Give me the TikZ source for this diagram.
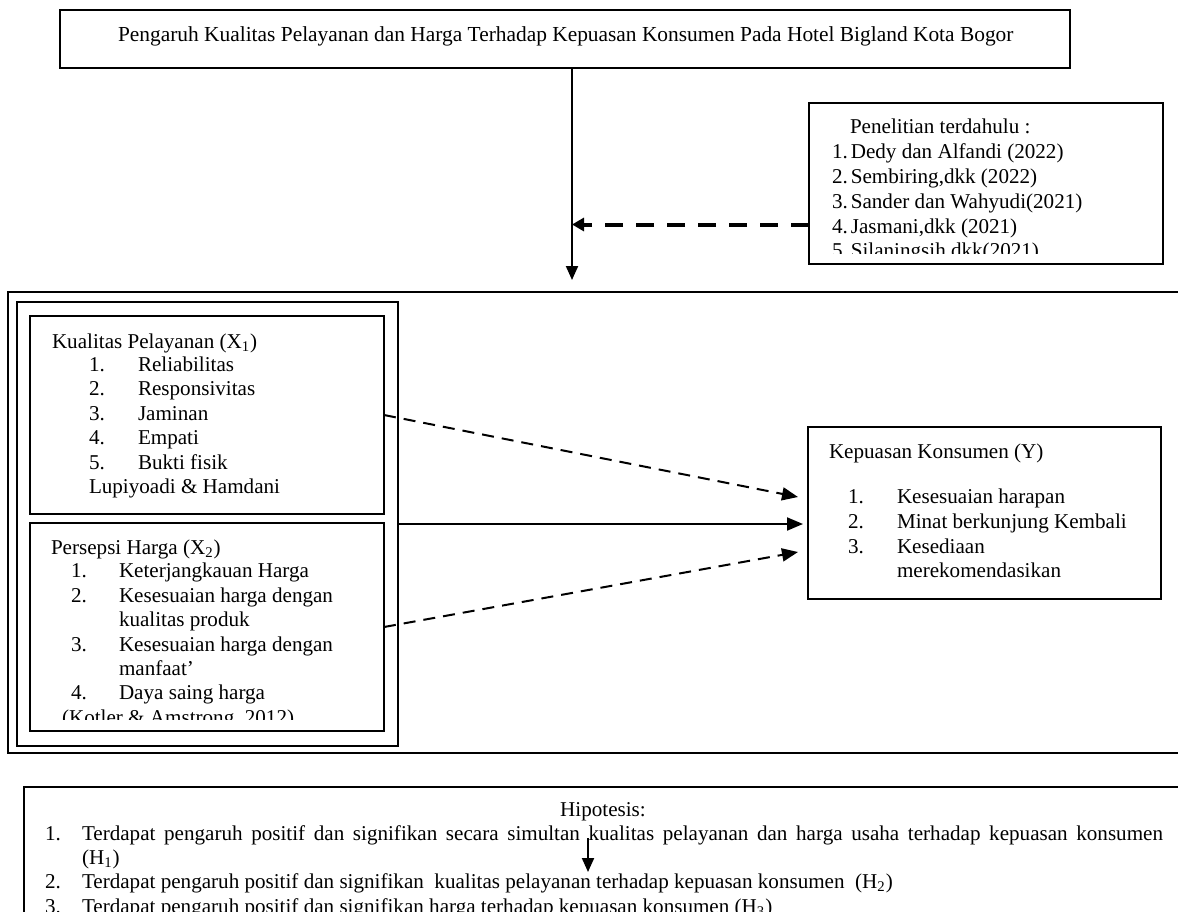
\documentclass[tikz,border=0pt]{standalone}
\usepackage{fontspec}
\setmainfont{Liberation Serif}
\usetikzlibrary{arrows.meta,calc}
\begin{document}
\begin{tikzpicture}[x=0.5pt,y=-0.5pt,
  every node/.style={font=\fontsize{10.55pt}{12.3pt}\selectfont},
  box/.style={draw,line width=1.25pt,inner sep=0pt,outer sep=0pt,anchor=north west},
  txt/.style={anchor=base west,inner sep=0pt,outer sep=0pt},
  thinarrow/.style={line width=1pt,-{Triangle[length=8pt,width=6.5pt]}},
  dasharrow/.style={thinarrow,dash pattern=on 6pt off 4pt},
  bigdash/.style={line width=2pt,dash pattern=on 9pt off 6.5pt,-{Triangle[length=6pt,width=6.5pt]}},
  downarrow/.style={line width=1pt,-{Triangle[length=7pt,width=6pt]}}]
\useasboundingbox (0,0) rectangle (1178,911);
\fill[white] (0,0) rectangle (1178,911);

% boxes
\node[box,minimum width=505pt,minimum height=29pt] (title) at (60,10) {};
\node[box,minimum width=177pt,minimum height=80.5pt] (res) at (809,103) {};
\node[box,minimum width=596pt,minimum height=230.5pt] (outer) at (8,292) {};
\node[box,minimum width=190.5pt,minimum height=222pt] (inner) at (17,302) {};
\node[box,minimum width=177pt,minimum height=99pt] (kual) at (30,316) {};
\node[box,minimum width=177pt,minimum height=104pt] (pers) at (30,523) {};
\node[box,minimum width=176.5pt,minimum height=86pt] (kep) at (808,427) {};
\node[box,minimum width=588pt,minimum height=71.5pt] (hyp) at (24,787) {};

% title text
\node[txt,font=\fontsize{10.7pt}{12.5pt}\selectfont] (ttl) at (118,41) {Pengaruh Kualitas Pelayanan dan Harga Terhadap Kepuasan Konsumen Pada Hotel Bigland Kota Bogor};

% research text
\node[txt] (r0) at (850,133) {Penelitian terdahulu :};
\node[txt] (r1) at (832,158) {1.\kern1.5pt Dedy dan Alfandi (2022)};
\node[txt] (r2) at (832,183) {2.\kern1.5pt Sembiring,dkk (2022)};
\node[txt] (r3) at (832,208) {3.\kern1.5pt Sander dan Wahyudi(2021)};
\node[txt] (r4) at (832,233) {4.\kern1.5pt Jasmani,dkk (2021)};
\begin{scope}
  \clip (809,103) rectangle (1163,253);
  \node[txt] (r5) at (832,257) {5.\kern1.5pt Silaningsih,dkk(2021)};
\end{scope}

% Kualitas text
\node[txt] (k0) at (52,348) {Kualitas Pelayanan (X\textsubscript{1})};
\node[txt] (k1n) at (89,371) {1.};  \node[txt] (k1) at (138,371) {Reliabilitas};
\node[txt] (k2n) at (89,395) {2.};  \node[txt] (k2) at (138,395) {Responsivitas};
\node[txt] (k3n) at (89,420) {3.};  \node[txt] (k3) at (138,420) {Jaminan};
\node[txt] (k4n) at (89,444) {4.};  \node[txt] (k4) at (138,444) {Empati};
\node[txt] (k5n) at (89,469) {5.};  \node[txt] (k5) at (138,469) {Bukti fisik};
\node[txt] (k6) at (89,493) {Lupiyoadi \& Hamdani};

% Persepsi text
\node[txt] (p0) at (51,554) {Persepsi Harga (X\textsubscript{2})};
\node[txt] (p1n) at (71,577) {1.};  \node[txt] (p1) at (119,577) {Keterjangkauan Harga};
\node[txt] (p2n) at (71,602) {2.};  \node[txt] (p2) at (119,602) {Kesesuaian harga dengan};
\node[txt] (p2b) at (119,626) {kualitas produk};
\node[txt] (p3n) at (71,651) {3.};  \node[txt] (p3) at (119,651) {Kesesuaian harga dengan};
\node[txt] (p3b) at (119,675) {manfaat’};
\node[txt] (p4n) at (71,699) {4.};  \node[txt] (p4) at (119,699) {Daya saing harga};
\begin{scope}
  \clip (30,523) rectangle (384,719);
  \node[txt] (p5) at (62,724) {(Kotler \& Amstrong, 2012)};
\end{scope}

% Kepuasan text
\node[txt] (y0) at (829,458) {Kepuasan Konsumen (Y)};
\node[txt] (y1n) at (848,503) {1.};  \node[txt] (y1) at (897,503) {Kesesuaian harapan};
\node[txt] (y2n) at (848,528) {2.};  \node[txt] (y2) at (897,528) {Minat berkunjung Kembali};
\node[txt] (y3n) at (848,553) {3.};  \node[txt] (y3) at (897,553) {Kesediaan};
\node[txt] (y3b) at (897,577) {merekomendasikan};

% Hypothesis text
\node[anchor=base,inner sep=0pt] (h0) at (603,816) {Hipotesis:};
\node[txt] (h1n) at (45,840) {1.};
\node[txt] (h1) at (82,840) {\makebox[540.5pt][s]{Terdapat pengaruh positif dan signifikan secara simultan kualitas pelayanan dan harga usaha terhadap kepuasan konsumen}};
\node[txt] (h1b) at (82,864) {(H\textsubscript{1})};
\node[txt] (h2n) at (45,888) {2.};
\node[txt] (h2) at (82,888) {Terdapat pengaruh positif dan signifikan\ \ kualitas pelayanan terhadap kepuasan konsumen\ \ (H\textsubscript{2})};
\node[txt] (h3n) at (45,913) {3.};
\node[txt] (h3) at (82,913) {Terdapat pengaruh positif dan signifikan harga terhadap kepuasan konsumen (H\textsubscript{3})};

% connectors
\coordinate (vt) at ([xshift=3.5pt]title.south);
\coordinate (vb) at (572,280);
\draw[downarrow] (vt) -- (vb);
\draw[bigdash] ([yshift=-20.5pt]res.west) -- ([yshift=-20.5pt]res.west -| vt);
\draw[dasharrow] (kual.east) -- ([xshift=-5pt,yshift=8pt]kep.west);
\draw[thinarrow] (inner.east) -- ([xshift=-2.5pt,yshift=-5.5pt]kep.west);
\draw[dasharrow] (pers.east) -- ([xshift=-5pt,yshift=-19.5pt]kep.west);
\coordinate (ha) at (588,838);
\coordinate (hb) at (588,872);
\draw[downarrow] (ha) -- (hb);
\end{tikzpicture}
\end{document}
